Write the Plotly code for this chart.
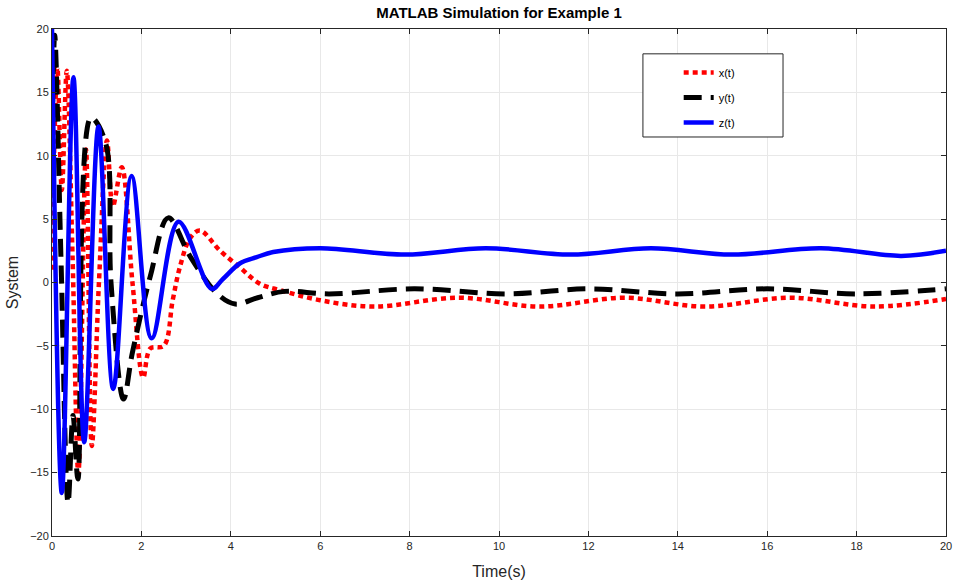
import plotly.graph_objects as go

# ---- data (extrema and intermediate points) ----
t_x = [0, 0.06, 0.12, 0.22, 0.33, 0.46, 0.59, 0.76, 0.89, 1.05, 1.23, 1.36, 1.56, 1.8, 2.04, 2.2, 2.5, 2.7, 2.86, 3.09, 3.31, 3.76, 4.2, 4.65, 5.1, 6.0, 7.2, 9.1, 10.9, 12.8, 14.6, 16.5, 18.4, 20]
x_v = [1, 12, 17, 7.3, 16.7, 2, -15.1, 10.5, -12.9, 0, 11.2, 6.0, 9.1, 0, -7.5, -5.2, -5.0, -1.4, 1.2, 3.5, 4.1, 2.5, 1.2, -0.1, -0.6, -1.4, -1.9, -1.2, -1.9, -1.2, -1.9, -1.2, -1.9, -1.3]

t_y = [0, 0.06, 0.2, 0.36, 0.47, 0.58, 0.87, 1.2, 1.32, 1.6, 1.8, 2.2, 2.6, 3.1, 3.7, 4.1, 4.6, 5.2, 6.2, 8.1, 10.2, 12.0, 14.0, 16.0, 18.0, 20]
y_v = [10, 19.5, 2, -17.4, -10.5, -15.5, 13, 11, 0, -9.2, -5.5, 0.5, 5.1, 2, -0.9, -1.7, -1.2, -0.7, -0.9, -0.5, -0.9, -0.5, -0.9, -0.5, -0.9, -0.5]

t_z = [0, 0.22, 0.48, 0.72, 1.04, 1.37, 1.78, 2.23, 2.83, 3.57, 3.83, 4.2, 4.58, 4.95, 6.0, 7.9, 9.7, 11.6, 13.4, 15.2, 17.2, 19.0, 20]
z_v = [20, -16.6, 16.2, -12.6, 12.3, -8.4, 8.4, -4.4, 4.8, -0.5, 0.3, 1.5, 2.0, 2.4, 2.7, 2.2, 2.7, 2.2, 2.7, 2.2, 2.7, 2.1, 2.5]

x_ticks = [0, 2, 4, 6, 8, 10, 12, 14, 16, 18, 20]
y_ticks = [-20, -15, -10, -5, 0, 5, 10, 15, 20]

FONT = "Liberation Sans, Arial, sans-serif"

fig = go.Figure()
fig.add_trace(go.Scatter(x=t_x, y=x_v, mode="lines", name="x(t)", legendgroup="a",
                         line=dict(color="#ff0000", width=4.5, dash="5px,4px", shape="spline", smoothing=1.0)))
fig.add_trace(go.Scatter(x=t_y, y=y_v, mode="lines", name="y(t)", legendgroup="b",
                         line=dict(color="#000000", width=5, dash="18px,9px", shape="spline", smoothing=1.0)))
fig.add_trace(go.Scatter(x=t_z, y=z_v, mode="lines", name="z(t)", legendgroup="c",
                         line=dict(color="#0000ff", width=4.5, shape="spline", smoothing=1.0)))

# legend frame (drawn as a box in paper coordinates)
fig.add_shape(type="rect", xref="paper", yref="paper",
              x0=0.661, x1=0.8177, y0=0.787, y1=0.951,
              line=dict(color="#262626", width=1), fillcolor="white", layer="above")

fig.update_layout(
    width=954, height=584,
    margin=dict(l=52, r=8, t=29, b=48, autoexpand=False),
    paper_bgcolor="white", plot_bgcolor="white",
    font=dict(family=FONT, size=11, color="#262626"),
    title=dict(text="<b>MATLAB Simulation for Example 1</b>", xref="paper", x=0.5, xanchor="center",
               yref="container", y=0.979, yanchor="middle", automargin=False,
               font=dict(size=15, color="black", family=FONT)),
    legend=dict(x=0.701, y=0.943, xanchor="left", yanchor="top",
                borderwidth=0, bgcolor="rgba(0,0,0,0)",
                font=dict(size=11, color="black"), tracegroupgap=6),
    showlegend=True,
)
fig.update_xaxes(range=[0, 20], tickvals=x_ticks, ticks="inside", ticklen=5, tickcolor="#262626",
                 showline=True, linecolor="#262626", linewidth=1, mirror="ticks", automargin=False,
                 showgrid=True, gridcolor="#e8e8e8", gridwidth=1, zeroline=False,
                 title=dict(text="Time(s)", font=dict(size=16, color="#262626"), standoff=14))
fig.update_yaxes(range=[-20, 20], tickvals=y_ticks, ticks="inside", ticklen=5, tickcolor="#262626",
                 showline=True, linecolor="#262626", linewidth=1, mirror="ticks", automargin=False,
                 showgrid=True, gridcolor="#e8e8e8", gridwidth=1, zeroline=False,
                 title=dict(text="System", font=dict(size=16, color="#262626"), standoff=7))

fig.write_html("out.html", config={"displayModeBar": False},
               post_script="document.body.style.margin='0';")
